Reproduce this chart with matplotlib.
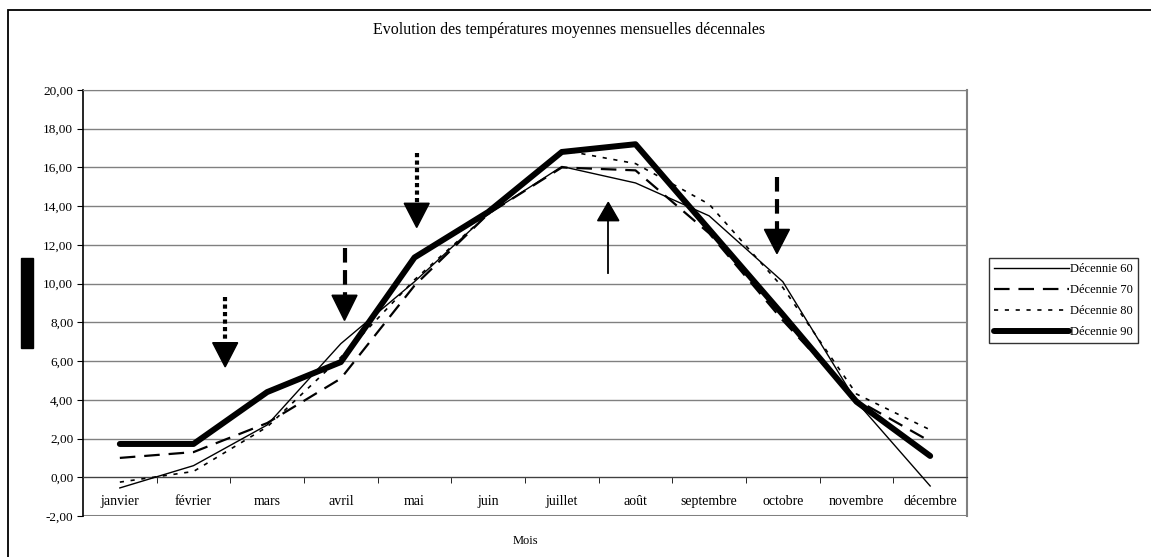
import matplotlib.pyplot as plt
import matplotlib.patches as patches
import numpy as np

plt.rcParams['font.family'] = ['Liberation Serif', 'DejaVu Serif']

mois = ['janvier', 'février', 'mars', 'avril', 'mai', 'juin', 'juillet',
        'août', 'septembre', 'octobre', 'novembre', 'décembre']

dec60 = [-0.55, 0.6, 2.7, 6.9, 10.1, 13.6, 16.05, 15.2, 13.5, 10.1, 3.9, -0.45]
dec70 = [1.0, 1.3, 2.8, 5.1, 9.9, 13.6, 16.0, 15.85, 12.6, 8.1, 4.0, 1.85]
dec80 = [-0.25, 0.3, 2.6, 6.2, 10.2, 13.6, 16.9, 16.2, 14.1, 9.8, 4.3, 2.45]
dec90 = [1.72, 1.72, 4.4, 5.95, 11.35, 13.7, 16.8, 17.2, 12.8, 8.4, 3.9, 1.1]

# flèches d'annotation : position x (indice mois), début du trait, base et pointe de la tête
fl_x = [1.43, 3.05, 4.03, 6.63, 8.92]
fl_debut = [9.3, 11.85, 16.75, 10.55, 15.5]
fl_base = [6.95, 9.4, 14.15, 13.25, 12.8]
fl_pointe = [5.7, 8.1, 12.9, 14.2, 11.55]
fl_style = ['pointille', 'tirets', 'pointille', 'plein', 'tirets']

fig = plt.figure(figsize=(11.51, 5.57), dpi=100)
ax = fig.add_axes([83/1151, 41/557, 884/1151, 426/557])

x = np.arange(len(mois))
ax.plot(x, dec60, color='black', lw=1.0, label='Décennie 60', zorder=3)
ax.plot(x, dec70, color='black', lw=1.6, dashes=(7, 4), label='Décennie 70', zorder=3)
ax.plot(x, dec80, color='black', lw=1.2, dashes=(2.5, 4), label='Décennie 80', zorder=3)
ax.plot(x, dec90, color='black', lw=4.3, solid_capstyle='round', label='Décennie 90', zorder=4)

# flèches
demi = 12.5 / 73.7
for xi, d, b, p, s in zip(fl_x, fl_debut, fl_base, fl_pointe, fl_style):
    if s == 'pointille':
        ax.plot([xi, xi], [d, b], color='black', lw=3, dashes=(1, 0.8), solid_capstyle='butt', zorder=5)
        hw = demi
    elif s == 'tirets':
        ax.plot([xi, xi], [d, b], color='black', lw=3, dashes=(3.5, 1.8), zorder=5)
        hw = demi
    else:
        ax.plot([xi, xi], [d, b], color='black', lw=1.3, zorder=5)
        hw = demi * 0.85
    ax.fill([xi - hw, xi + hw, xi], [b, b, p], color='black', zorder=5)

ax.set_xlim(-0.5, 11.5)
ax.set_ylim(-2, 20)
ax.set_yticks(np.arange(-2, 21, 2))
ax.set_yticklabels([f'{v:.2f}'.replace('.', ',') for v in np.arange(-2, 21, 2)], fontsize=9.5)
ax.grid(axis='y', color='#808080', lw=1)
ax.set_axisbelow(True)

ax.set_xticks(x)
ax.set_xticklabels(mois, fontsize=6.5, color='#222222')
ax.set_xticks(np.arange(0.5, 11.5, 1), minor=True)
ax.tick_params(axis='x', which='major', length=0, pad=13)
ax.tick_params(axis='x', which='minor', length=4, direction='out', color='black')
ax.tick_params(axis='y', length=4, direction='out', pad=3)

ax.spines['bottom'].set_position(('data', 0))
ax.spines['bottom'].set_color('#404040')
ax.spines['top'].set_color('#808080')
ax.spines['right'].set_color('#808080')
ax.spines['right'].set_linewidth(1.5)
ax.spines['left'].set_linewidth(1.2)
ax.axhline(-2, color='#808080', lw=2.2, zorder=2)

fig.text(0.494, 0.946, 'Evolution des températures moyennes mensuelles décennales',
         ha='center', va='center', fontsize=11.5)
fig.text(525/1151, 1 - 541/557, 'Mois', ha='center', va='center', fontsize=9)

# cadre extérieur et titre d'axe masqué
fig.patches.append(patches.Rectangle((8/1151, -0.1), 1.2, 1 - 10/557 + 0.1,
                                     transform=fig.transFigure, fill=False,
                                     edgecolor='black', lw=1.3))
fig.patches.append(patches.Rectangle((21/1151, 1 - 348/557), 12/1151, 90/557,
                                     transform=fig.transFigure, color='black'))

leg = fig.legend(loc='upper left', bbox_to_anchor=(989/1151, 1 - 258/557),
                 borderaxespad=0, frameon=True, fancybox=False, edgecolor='black',
                 fontsize=9, handlelength=6, handletextpad=0.05, labelspacing=0.72,
                 borderpad=0.4)
leg.get_frame().set_linewidth(1)

fig.savefig('out.png', dpi=100)
